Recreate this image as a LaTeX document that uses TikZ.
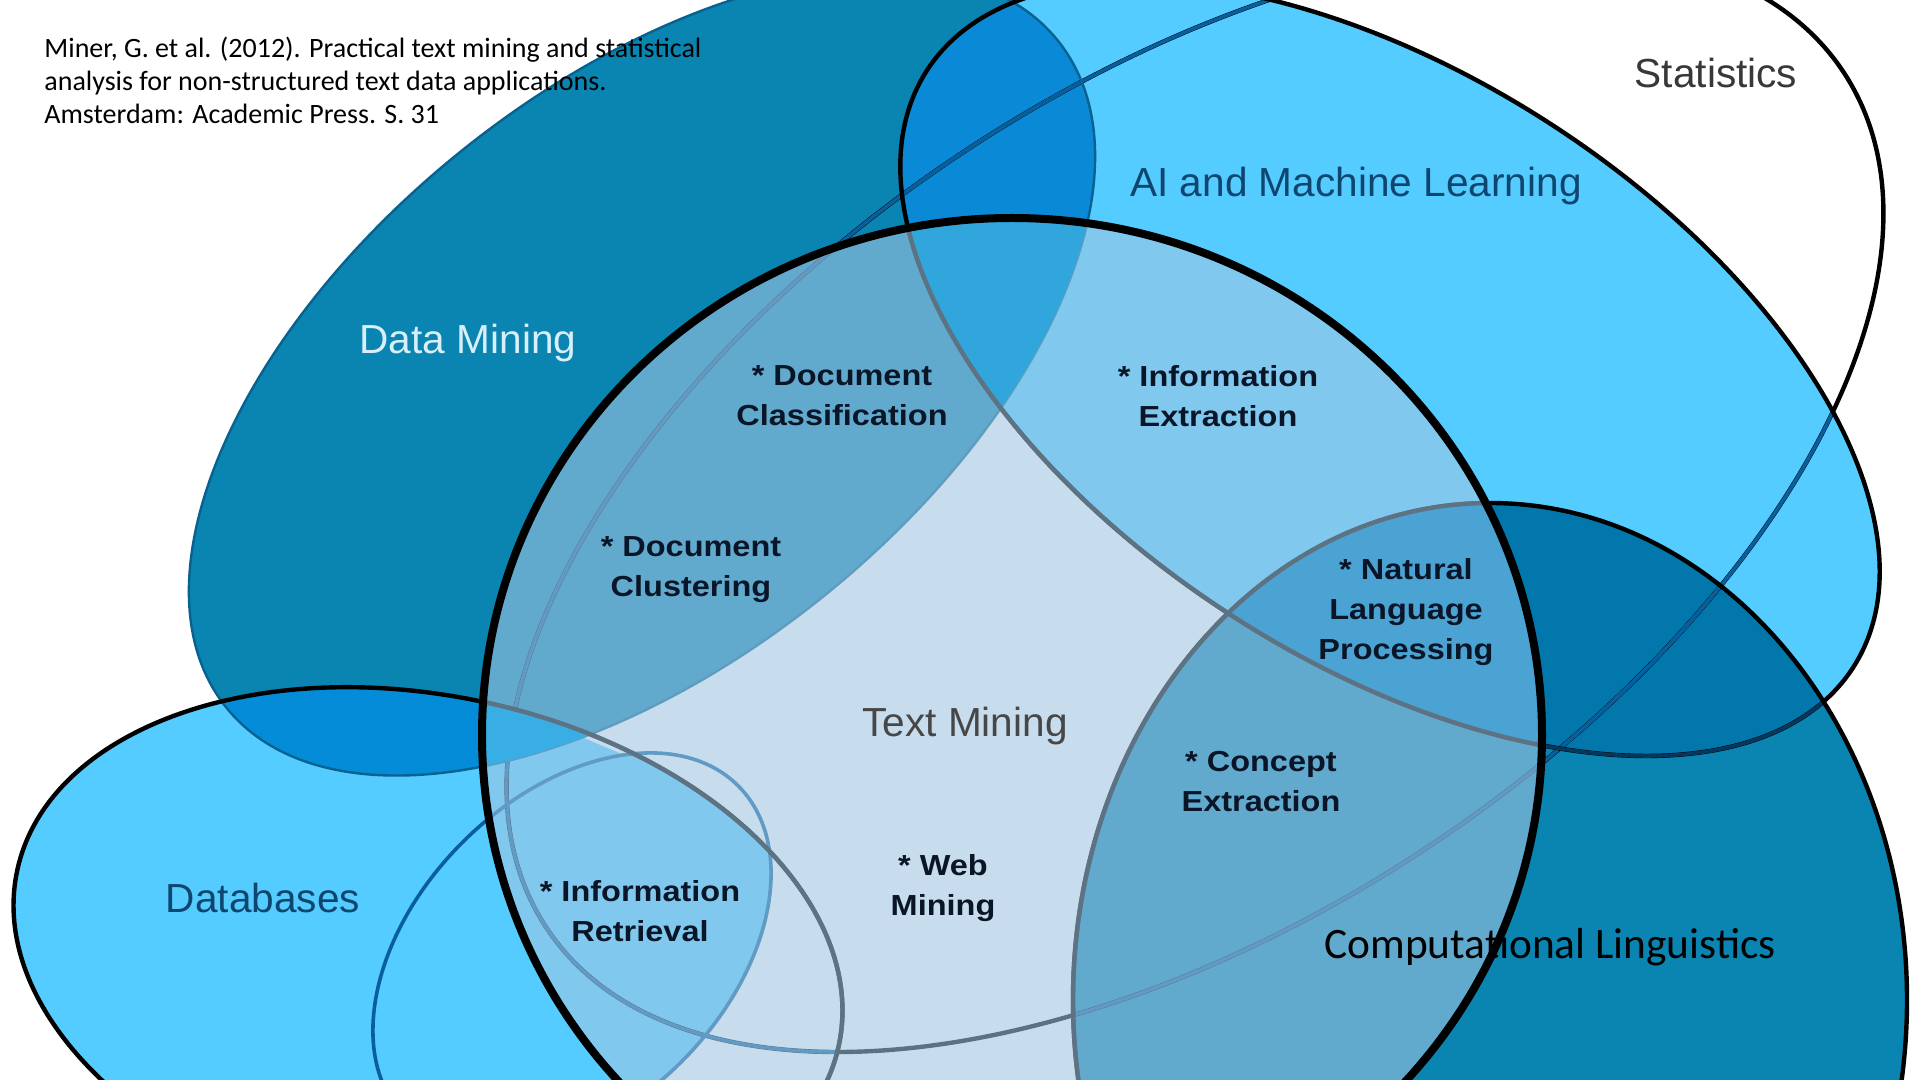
\documentclass[tikz,border=0pt]{standalone}
\usepackage{fontspec}
\setmainfont{Liberation Sans}
\newfontfamily\citefont{Carlito}
\newfontfamily\itemfont[FakeStretch=1.12]{Liberation Sans}
\definecolor{skyfill}{HTML}{55CCFF}
\definecolor{tealfill}{HTML}{0A85B2}
\definecolor{dmai}{HTML}{0A8AD6}
\definecolor{dmdb}{HTML}{048CD8}
\definecolor{clai}{HTML}{0277AC}
\definecolor{tmveil}{HTML}{A0C6E2}
\definecolor{tmdmai}{HTML}{31A6DC}
\definecolor{tmclai}{HTML}{4BA3D4}
\definecolor{tmdmdb}{HTML}{38AEE5}
\definecolor{veilgray}{HTML}{5D7383}
\definecolor{innerblue}{HTML}{0A5E9C}
\definecolor{rimblue}{HTML}{07628F}
\definecolor{labelnavy}{HTML}{0E4670}
\definecolor{datawhite}{HTML}{D8EEF8}
\definecolor{itemink}{HTML}{0A1628}
\newcommand{\pathStat}{(1195,500) ellipse [x radius=777, y radius=418, rotate=33.4]}
\newcommand{\pathAI}{(1390,369) ellipse [x radius=551, y radius=293, rotate=-32.8]}
\newcommand{\pathDM}{(642,374) ellipse [x radius=533, y radius=287, rotate=38.7]}
\newcommand{\pathDB}{(428,958) ellipse [x radius=420, y radius=262, rotate=-12]}
\newcommand{\pathCL}{(1490,1000) ellipse [x radius=417, y radius=497]}
\newcommand{\pathIR}{(572,952) ellipse [x radius=235, y radius=155, rotate=45]}
\newcommand{\pathTM}{(1012,735) ellipse [x radius=530, y radius=517]}

\begin{document}
\begin{tikzpicture}[x=0.5pt,y=-0.5pt,
		ringline/.style={line width=2.2pt,black},
		innerline/.style={line width=1.8pt,innerblue},
		rimline/.style={line width=1.2pt,rimblue},
		veilline/.style={line width=2.2pt,veilgray},
		thinlabel/.style={font=\fontsize{20.3}{24}\selectfont,inner sep=0pt,anchor=base},
		itemlabel/.style={font=\itemfont\bfseries\fontsize{14.5}{20}\selectfont,align=center,text=itemink,inner sep=0pt}]
	\useasboundingbox (0,0) rectangle (1913,1080);
	\clip (0,0) rectangle (1913,1080);
	\fill[white] (0,0) rectangle (1913,1080);

	\fill[white] \pathStat;
	\fill[skyfill] \pathAI;
	\fill[skyfill] \pathDB;
	\fill[tealfill] \pathDM;
	\fill[tealfill] \pathCL;
	\begin{scope}
		\clip \pathDM;
		\fill[dmai] \pathAI;
		\fill[dmdb] \pathDB;
	\end{scope}
	\begin{scope}
		\clip \pathCL;
		\fill[clai] \pathAI;
	\end{scope}
	\begin{scope}
		\clip \pathTM;
		\clip \pathDB;
		\fill[white] \pathDB;
		\fill[skyfill] \pathIR;
		\fill[skyfill] (470,690) -- (712,792) -- (495,832) -- (470,832) -- cycle;
		\fill[dmdb] \pathDM;
	\end{scope}

	\draw[ringline] \pathStat;
	\foreach \inside in {\pathAI,\pathDB,\pathCL,\pathDM}{
		\begin{scope}
			\clip \inside;
			\draw[innerline] \pathStat;
		\end{scope}
	}
	\draw[rimline] \pathDM;
	\draw[innerline] \pathIR;
	\draw[ringline] \pathAI;
	\begin{scope}
		\clip \pathCL;
		\draw[innerline,black!40!innerblue] \pathAI;
	\end{scope}
	\draw[ringline] \pathDB;
	\draw[ringline] \pathCL;

	\fill[tmveil,fill opacity=0.58] \pathTM;
	\begin{scope}
		\clip \pathTM;
		\begin{scope}
			\clip \pathAI;
			\fill[tmdmai] \pathDM;
			\fill[tmclai] \pathCL;
		\end{scope}
		\begin{scope}
			\clip \pathDB;
			\fill[tmdmdb] \pathDM;
		\end{scope}
		\draw[veilline] \pathAI;
		\draw[veilline] \pathCL;
		\draw[veilline] \pathDB;
	\end{scope}
	\draw[line width=4pt] \pathTM;

	\node[anchor=north west,inner sep=0pt,align=left,font=\citefont\fontsize{14}{16.4}\selectfont] (cite) at (44,37) {Miner, G. et al. (2012). Practical text mining and statistical\\analysis for non-structured text data applications.\\Amsterdam: Academic Press. S. 31};
	\node[thinlabel,text=black!78] (stat) at (1716,88) {Statistics};
	\node[thinlabel,text=labelnavy] (aiml) at (1356,197) {AI and Machine Learning};
	\node[thinlabel,text=datawhite] (dmin) at (468,354) {Data Mining};
	\node[thinlabel,text=labelnavy] (dbas) at (263,912) {Databases};
	\node[thinlabel,text=black!72] (tmin) at (965,736) {Text Mining};
	\node[anchor=base west,inner sep=0pt,font=\citefont\fontsize{21.7}{25}\selectfont] (clin) at (1324,958) {Computational Linguistics};

	\node[itemlabel] (dcla) at (842,396) {* Document\\Classification};
	\node[itemlabel] (dclu) at (691,570) {* Document\\Clustering};
	\node[itemlabel] (iext) at (1218,396) {* Information\\Extraction};
	\node[itemlabel] (nlp) at (1406,612) {* Natural\\Language\\Processing};
	\node[itemlabel] (cext) at (1261,782) {* Concept\\Extraction};
	\node[itemlabel] (webm) at (943,888) {* Web\\Mining};
	\node[itemlabel] (iret) at (640,911) {* Information\\Retrieval};
\end{tikzpicture}
\end{document}
